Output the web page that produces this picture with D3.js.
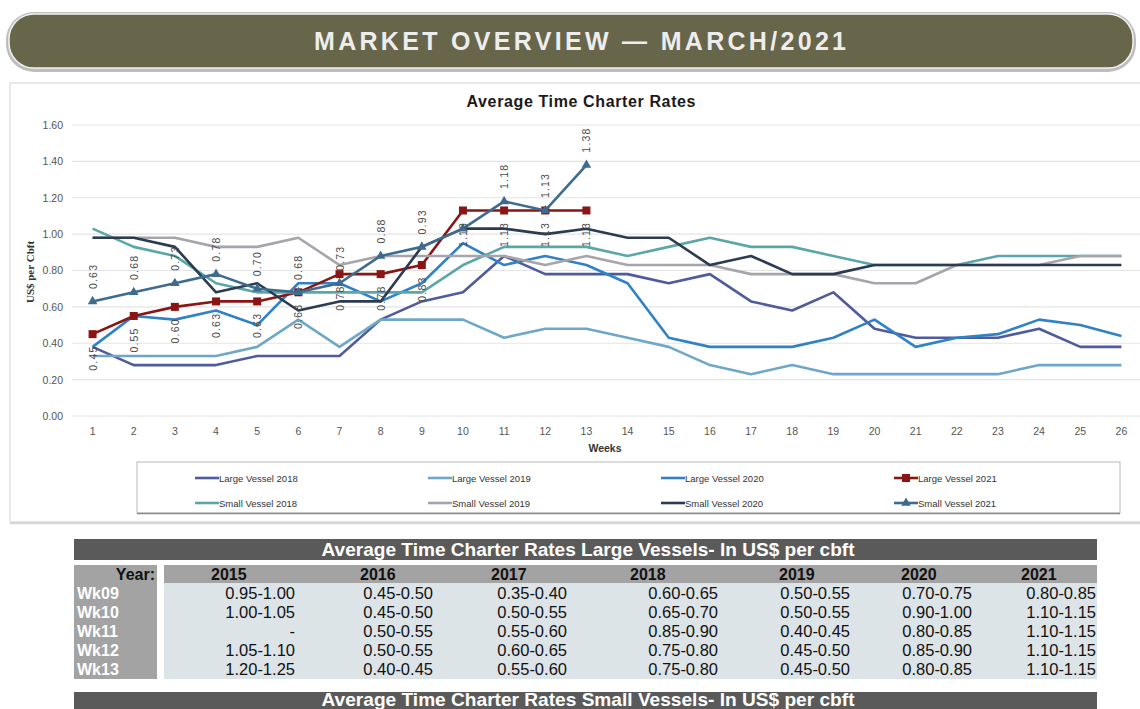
<!DOCTYPE html>
<html>
<head>
<meta charset="utf-8">
<script src="https://cdn.jsdelivr.net/npm/d3@7"></script>
<style>
  body { margin: 0; background: #fff; }
  svg { display: block; font-family: "Liberation Sans", Arial, sans-serif; }
</style>
</head>
<body>
<div id="chart" style="width:1140px;height:709px;"></div>
<script>
// chart data: weeks and the eight series (US$ per cbft)
const weeks = d3.range(1, 27);
const yTicks = [0, 0.2, 0.4, 0.6, 0.8, 1.0, 1.2, 1.4, 1.6];

const large2018 = [0.38, 0.28, 0.28, 0.28, 0.33, 0.33, 0.33, 0.53, 0.63, 0.68, 0.88, 0.78, 0.78, 0.78, 0.73, 0.78, 0.63, 0.58, 0.68, 0.48, 0.43, 0.43, 0.43, 0.48, 0.38, 0.38];
const large2019 = [0.33, 0.33, 0.33, 0.33, 0.38, 0.53, 0.38, 0.53, 0.53, 0.53, 0.43, 0.48, 0.48, 0.43, 0.38, 0.28, 0.23, 0.28, 0.23, 0.23, 0.23, 0.23, 0.23, 0.28, 0.28, 0.28];
const large2020 = [0.38, 0.55, 0.53, 0.58, 0.50, 0.73, 0.73, 0.63, 0.73, 0.95, 0.83, 0.88, 0.83, 0.73, 0.43, 0.38, 0.38, 0.38, 0.43, 0.53, 0.38, 0.43, 0.45, 0.53, 0.50, 0.44];
const large2021 = [0.45, 0.55, 0.60, 0.63, 0.63, 0.68, 0.78, 0.78, 0.83, 1.13, 1.13, 1.13, 1.13];
const small2018 = [1.03, 0.93, 0.88, 0.73, 0.68, 0.68, 0.68, 0.68, 0.68, 0.83, 0.93, 0.93, 0.93, 0.88, 0.93, 0.98, 0.93, 0.93, 0.88, 0.83, 0.83, 0.83, 0.88, 0.88, 0.88, 0.88];
const small2019 = [0.98, 0.98, 0.98, 0.93, 0.93, 0.98, 0.83, 0.88, 0.88, 0.88, 0.88, 0.83, 0.88, 0.83, 0.83, 0.83, 0.78, 0.78, 0.78, 0.73, 0.73, 0.83, 0.83, 0.83, 0.88, 0.88];
const small2020 = [0.98, 0.98, 0.93, 0.68, 0.73, 0.58, 0.63, 0.63, 0.93, 1.03, 1.03, 1.00, 1.03, 0.98, 0.98, 0.83, 0.88, 0.78, 0.78, 0.83, 0.83, 0.83, 0.83, 0.83, 0.83, 0.83];
const small2021 = [0.63, 0.68, 0.73, 0.78, 0.70, 0.68, 0.73, 0.88, 0.93, 1.03, 1.18, 1.13, 1.38];
const small2021NoLabel = [10]; // week whose label is not shown

// table data
const tableYears = ["2015", "2016", "2017", "2018", "2019", "2020", "2021"];
const tableWeeks = ["Wk09", "Wk10", "Wk11", "Wk12", "Wk13"];
const largeRanges = [
    ["0.95-1.00", "0.45-0.50", "0.35-0.40", "0.60-0.65", "0.50-0.55", "0.70-0.75", "0.80-0.85"],
    ["1.00-1.05", "0.45-0.50", "0.50-0.55", "0.65-0.70", "0.50-0.55", "0.90-1.00", "1.10-1.15"],
    ["-", "0.50-0.55", "0.55-0.60", "0.85-0.90", "0.40-0.45", "0.80-0.85", "1.10-1.15"],
    ["1.05-1.10", "0.50-0.55", "0.60-0.65", "0.75-0.80", "0.45-0.50", "0.85-0.90", "1.10-1.15"],
    ["1.20-1.25", "0.40-0.45", "0.55-0.60", "0.75-0.80", "0.45-0.50", "0.80-0.85", "1.10-1.15"]
];

const series = [
    { name: "Large Vessel 2018", values: large2018, color: "#4f5b9c" },
    { name: "Large Vessel 2019", values: large2019, color: "#6fa7c9" },
    { name: "Large Vessel 2020", values: large2020, color: "#2f82c6" },
    { name: "Large Vessel 2021", values: large2021, color: "#8b1515", marker: "square", label: "below" },
    { name: "Small Vessel 2018", values: small2018, color: "#5ba6a8" },
    { name: "Small Vessel 2019", values: small2019, color: "#a5a5ab" },
    { name: "Small Vessel 2020", values: small2020, color: "#2c3a52" },
    { name: "Small Vessel 2021", values: small2021, color: "#3d6c8f", marker: "triangle", label: "above", skip: small2021NoLabel }
];

const width = 1140;
const height = 709;
const margin = { top: 125, left: 72, right: -2, bottom: 293 };

const svg = d3.select("#chart")
    .append("svg")
    .attr("width", width)
    .attr("height", height);

// banner
svg.append("rect")
    .attr("x", 6).attr("y", 12)
    .attr("width", 1130).attr("height", 60)
    .attr("rx", 28)
    .attr("fill", "#bdbdbd");
svg.append("rect")
    .attr("x", 9).attr("y", 14)
    .attr("width", 1124).attr("height", 54)
    .attr("rx", 25)
    .attr("fill", "#67654a")
    .attr("stroke", "#f2f2f2")
    .attr("stroke-width", 1.5);
svg.append("text")
    .attr("x", 580).attr("y", 50)
    .attr("text-anchor", "middle")
    .attr("fill", "#ededed")
    .attr("font-size", 25)
    .attr("font-weight", "bold")
    .attr("textLength", 532)
    .attr("lengthAdjust", "spacing")
    .text("MARKET OVERVIEW \u2014 MARCH/2021");

// chart frame
svg.append("rect")
    .attr("x", 10).attr("y", 83)
    .attr("width", 1140).attr("height", 439)
    .attr("fill", "none")
    .attr("stroke", "#e2e2e2")
    .attr("stroke-width", 1.5);

svg.append("text")
    .attr("x", 581).attr("y", 107)
    .attr("text-anchor", "middle")
    .attr("font-size", 16)
    .attr("font-weight", "bold")
    .attr("fill", "#1a1a1a")
    .attr("textLength", 229)
    .attr("lengthAdjust", "spacing")
    .text("Average Time Charter Rates");

//scales
const xScale = d3.scaleBand()
    .domain(weeks)
    .range([margin.left, width - margin.right])
    .padding(0);
const xPos = w => xScale(w) + xScale.bandwidth() / 2;

const yScale = d3.scaleLinear()
    .domain([0, 1.6])
    .range([height - margin.bottom, margin.top]);

// gridlines
svg.append("g")
    .selectAll("line")
    .data(yTicks)
    .enter()
    .append("line")
    .attr("x1", margin.left)
    .attr("x2", width)
    .attr("y1", d => yScale(d))
    .attr("y2", d => yScale(d))
    .attr("stroke", "#e4e4e4")
    .attr("stroke-width", 1.2);

const yAxis = svg.append("g")
    .attr("transform", `translate(${margin.left},0)`)
    .call(d3.axisLeft(yScale).tickValues(yTicks).tickFormat(d3.format(".2f")).tickSize(0).tickPadding(9));
yAxis.select(".domain").remove();
yAxis.selectAll("text").attr("font-size", 10.5).attr("fill", "#555").attr("font-family", "Liberation Sans, Arial");

const xAxis = svg.append("g")
    .attr("transform", `translate(0,${height - margin.bottom})`)
    .call(d3.axisBottom(xScale).tickSize(0).tickPadding(12));
xAxis.select(".domain").remove();
xAxis.selectAll("text").attr("font-size", 10.5).attr("fill", "#555").attr("font-family", "Liberation Sans, Arial");

svg.append("text")
    .attr("x", 605).attr("y", 452)
    .attr("text-anchor", "middle")
    .attr("font-size", 10.5)
    .attr("font-weight", "bold")
    .attr("fill", "#333")
    .text("Weeks");

svg.append("text")
    .attr("transform", "rotate(-90)")
    .attr("x", -272).attr("y", 34)
    .attr("text-anchor", "middle")
    .attr("font-family", "Liberation Serif, Times New Roman, serif")
    .attr("font-weight", "bold")
    .attr("font-size", 11)
    .attr("fill", "#333")
    .text("US$ per Cbft");

// lines
const line = d3.line()
    .x((d, i) => xPos(weeks[i]))
    .y(d => yScale(d));

const triangle = d3.symbol().type(d3.symbolTriangle).size(40);

series.forEach(s => {
    svg.append("path")
        .datum(s.values)
        .attr("d", line)
        .attr("fill", "none")
        .attr("stroke", s.color)
        .attr("stroke-width", 2.6)
        .attr("stroke-linejoin", "round");

    if (s.marker === "square") {
        svg.append("g").selectAll("rect")
            .data(s.values)
            .enter()
            .append("rect")
            .attr("x", (d, i) => xPos(weeks[i]) - 4)
            .attr("y", d => yScale(d) - 4)
            .attr("width", 8).attr("height", 8)
            .attr("fill", s.color);
    }
    if (s.marker === "triangle") {
        svg.append("g").selectAll("path")
            .data(s.values)
            .enter()
            .append("path")
            .attr("d", triangle)
            .attr("transform", (d, i) => `translate(${xPos(weeks[i])},${yScale(d)})`)
            .attr("fill", s.color);
    }
});

// data labels, rotated like the original
series.filter(s => s.label).forEach(s => {
    svg.append("g").selectAll("text")
        .data(s.values.map((v, i) => ({ v, w: weeks[i] })).filter(d => !(s.skip || []).includes(d.w)))
        .enter()
        .append("text")
        .attr("transform", d => {
            const off = s.label === "above" ? -25 : 24;
            return `translate(${xPos(d.w) + 4},${yScale(d.v) + off}) rotate(-90)`;
        })
        .attr("text-anchor", "middle")
        .attr("font-size", 10.5)
        .attr("letter-spacing", 1.2)
        .attr("fill", "#4a4a4a")
        .text(d => d3.format(".2f")(d.v));
});

// legend
const legend = svg.append("g");
legend.append("rect")
    .attr("x", 137).attr("y", 462)
    .attr("width", 983).attr("height", 51)
    .attr("fill", "#fff")
    .attr("stroke", "#b8b8b8")
    .attr("stroke-width", 1);
legend.append("line")
    .attr("x1", 137).attr("x2", 1120)
    .attr("y1", 513.5).attr("y2", 513.5)
    .attr("stroke", "#8a8a8a").attr("stroke-width", 1.5);

const legItem = legend.selectAll("g.item")
    .data(series)
    .enter()
    .append("g")
    .attr("class", "item")
    .attr("transform", (d, i) => `translate(${195 + (i % 4) * 233},${i < 4 ? 478 : 503})`);

legItem.append("line")
    .attr("x1", 0).attr("x2", 24)
    .attr("stroke", d => d.color)
    .attr("stroke-width", 2.6);
legItem.filter(d => d.marker === "square").append("rect")
    .attr("x", 8).attr("y", -4).attr("width", 8).attr("height", 8)
    .attr("fill", d => d.color);
legItem.filter(d => d.marker === "triangle").append("path")
    .attr("d", triangle)
    .attr("transform", "translate(12,0)")
    .attr("fill", d => d.color);
legItem.append("text")
    .attr("x", 24).attr("y", 3.5)
    .attr("font-size", 9.5)
    .attr("fill", "#333")
    .text(d => d.name);

// chart bottom shadow line
svg.append("line")
    .attr("x1", 10).attr("x2", 1140)
    .attr("y1", 523).attr("y2", 523)
    .attr("stroke", "#d6d6d6").attr("stroke-width", 2.5);

// table: large vessels
const tableLeft = 74;
const dataLeft = 164;
const tableRight = 1097;
const yearX = [211, 360, 491, 630, 779, 901, 1021];
const valRight = [295, 433, 567, 718, 850, 972, 1096];

function tableHeader(y, h, title, base) {
    svg.append("rect")
        .attr("x", tableLeft).attr("y", y)
        .attr("width", tableRight - tableLeft).attr("height", h)
        .attr("fill", "#5a5a5a");
    svg.append("text")
        .attr("x", 588).attr("y", base)
        .attr("text-anchor", "middle")
        .attr("fill", "#fff")
        .attr("font-size", 18.5)
        .attr("font-weight", "bold")
        .attr("textLength", 533)
        .attr("lengthAdjust", "spacingAndGlyphs")
        .text(title);
}

tableHeader(539, 21, "Average Time Charter Rates Large Vessels- In US$ per cbft", 556);

// year row and grey week column
svg.append("rect").attr("x", tableLeft).attr("y", 565).attr("width", 83).attr("height", 114).attr("fill", "#a3a3a3");
svg.append("rect").attr("x", dataLeft).attr("y", 565).attr("width", tableRight - dataLeft).attr("height", 18).attr("fill", "#a3a3a3");
svg.append("rect").attr("x", dataLeft).attr("y", 583).attr("width", tableRight - dataLeft).attr("height", 96).attr("fill", "#dde4e8");

svg.append("text")
    .attr("x", 155).attr("y", 580)
    .attr("text-anchor", "end")
    .attr("font-size", 16).attr("font-weight", "bold")
    .attr("fill", "#111")
    .text("Year:");

svg.append("g").selectAll("text")
    .data(tableYears)
    .enter()
    .append("text")
    .attr("x", (d, i) => yearX[i])
    .attr("y", 580)
    .attr("font-size", 16).attr("font-weight", "bold")
    .attr("fill", "#111")
    .text(d => d);

const rowY = d3.scaleBand().domain(tableWeeks).range([583, 679]);

svg.append("g").selectAll("text")
    .data(tableWeeks)
    .enter()
    .append("text")
    .attr("x", 77)
    .attr("y", d => rowY(d) + 15.5)
    .attr("font-size", 16).attr("font-weight", "bold")
    .attr("fill", "#fff")
    .text(d => d);

largeRanges.forEach((row, r) => {
    svg.append("g").selectAll("text")
        .data(row)
        .enter()
        .append("text")
        .attr("x", (d, i) => valRight[i])
        .attr("y", rowY(tableWeeks[r]) + 15.5)
        .attr("text-anchor", "end")
        .attr("font-size", 16.5)
        .attr("fill", "#111")
        .text(d => d);
});

tableHeader(692, 17, "Average Time Charter Rates Small Vessels- In US$ per cbft", 706);
</script>
</body>
</html>
